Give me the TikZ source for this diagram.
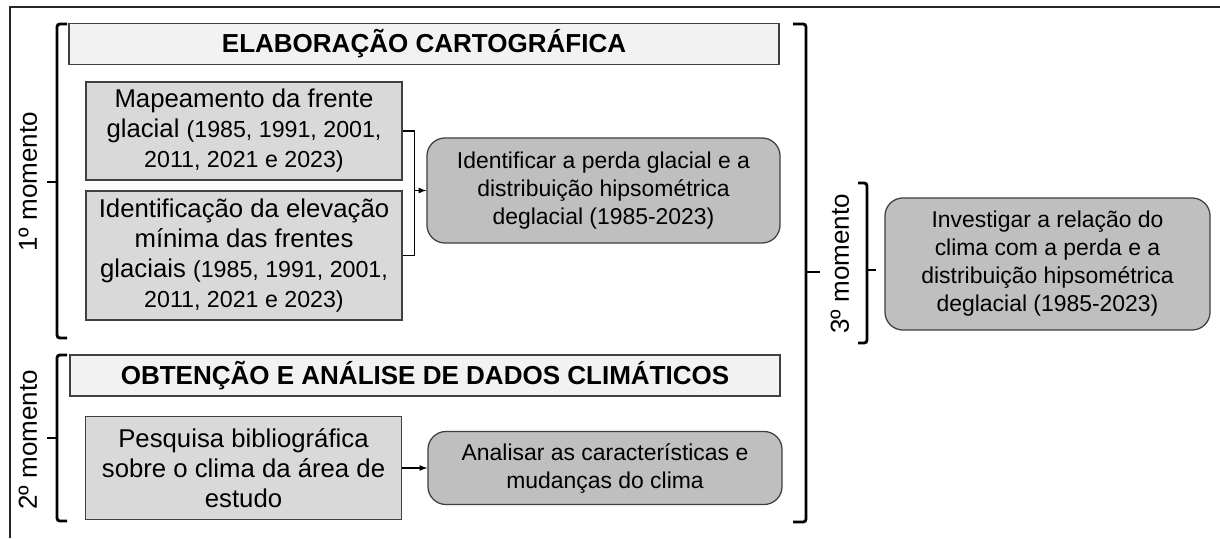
\documentclass[tikz,border=0pt]{standalone}
\usepackage{fontspec}
\setmainfont{Liberation Sans}
\usepackage{tikz}

\definecolor{titlegray}{HTML}{F2F2F2}
\definecolor{boxgray}{HTML}{D9D9D9}
\definecolor{goalgray}{HTML}{BFBFBF}
\definecolor{edgegray}{HTML}{404040}
\newcommand{\yrsize}{\fontsize{16.5}{21.3}\selectfont}

\begin{document}
\begin{tikzpicture}[x=0.025cm, y=-0.025cm,
    titlebox/.style={rectangle, draw=edgegray, line width=0.9pt, fill=titlegray, minimum width=17.75cm, minimum height=1.02cm, inner sep=0pt, font=\fontsize{18.5}{21}\selectfont\bfseries},
    taskbox/.style={rectangle, draw=edgegray, line width=0.9pt, fill=boxgray, minimum width=7.9cm, inner sep=0pt, align=center, font=\fontsize{18.3}{21.3}\selectfont},
    goalbox/.style={rectangle, rounded corners=0.45cm, draw=edgegray, line width=0.9pt, fill=goalgray, inner sep=0pt, align=center, font=\fontsize{16.3}{19.9}\selectfont},
    bracket/.style={line width=2pt, rounded corners=2pt},
    link/.style={line width=0.9pt},
    phase/.style={rotate=90, font=\fontsize{18.5}{20}\selectfont}]
    \useasboundingbox (0,0) rectangle (1220,538);
    \draw[line width=1pt, color=black!85] (10,538) -- (10,7) -- (1220,7);

    % 1o momento
    \node[titlebox] (T1) at (424,44) {ELABORAÇÃO CARTOGRÁFICA};
    \node[taskbox, minimum height=2.45cm] (M) at (244,131) {Mapeamento da frente\\ glacial {\yrsize (1985, 1991, 2001,}\\ {\yrsize 2011, 2021 e 2023)}};
    \node[taskbox, minimum height=3.225cm] (I) at (244,255.5) {Identificação da elevação\\ mínima das frentes\\ glaciais {\yrsize (1985, 1991, 2001,}\\ {\yrsize 2011, 2021 e 2023)}};
    \node[goalbox, minimum width=8.825cm, minimum height=2.625cm] (D) at (603.5,190.5) {Identificar a perda glacial e a\\ distribuição hipsométrica\\ deglacial (1985-2023)};
    \coordinate (J) at (414,190.5);
    \draw[link] (M.east) -- ++(12,0) |- (I.east);
    \draw[link,-latex] (J) -- (D.west);

    % 2o momento
    \node[titlebox] (T2) at (425,375.5) {OBTENÇÃO E ANÁLISE DE DADOS CLIMÁTICOS};
    \node[taskbox, minimum height=2.575cm] (P) at (243.5,468) {Pesquisa bibliográfica\\ sobre o clima da área de\\ estudo};
    \node[goalbox, minimum width=8.85cm, minimum height=1.825cm] (A) at (605,468) {Analisar as características e\\ mudanças do clima};
    \draw[link,-latex] (P.east) -- (A.west);

    % 3o momento
    \node[goalbox, minimum width=8.125cm, minimum height=3.3cm] (C) at (1047.5,264) {Investigar a relação do\\ clima com a perda e a\\ distribuição hipsométrica\\ deglacial (1985-2023)};

    % chaves
    \draw[bracket] (67,24) -- (57,24) -- (57,338) -- (67,338);
    \draw[bracket] (57,182) -- (47,182);
    \node[phase] (L1) at (28,182) {1º momento};
    \draw[bracket] (67,355) -- (57,355) -- (57,521) -- (67,521);
    \draw[bracket] (57,438) -- (47,438);
    \node[phase] (L2) at (28,440) {2º momento};
    \draw[bracket] (793,24) -- (806,24) -- (806,522) -- (793,522);
    \draw[bracket] (806,272) -- (820,272);
    \node[phase] (L3) at (840,264) {3º momento};
    \draw[bracket] (858,183) -- (867,183) -- (867,343) -- (858,343);
    \draw[bracket] (867,270) -- (876,270);
\end{tikzpicture}
\end{document}
